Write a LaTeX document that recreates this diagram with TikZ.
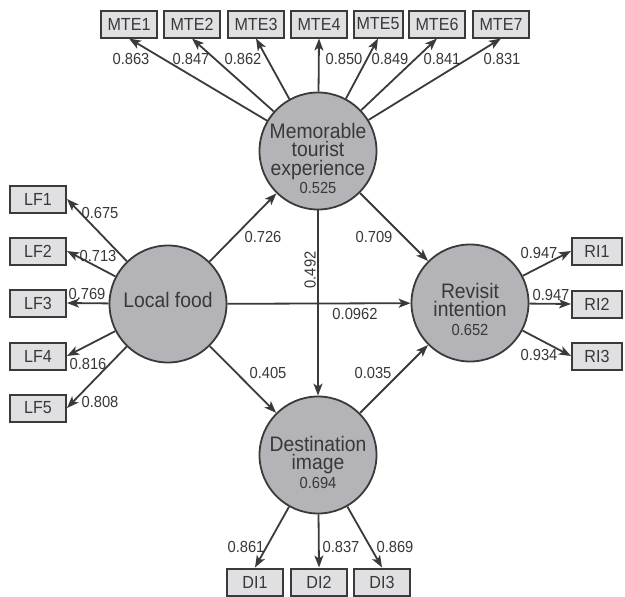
\documentclass[tikz,border=0pt]{standalone}
\usepackage{fontspec}
\setmainfont{Liberation Sans}[FakeStretch=0.92]
\usetikzlibrary{arrows.meta}
\definecolor{linec}{HTML}{3A3A3A}
\definecolor{txtc}{HTML}{383838}
\definecolor{circf}{HTML}{B4B4B8}
\definecolor{boxf}{HTML}{E0E0E2}
\tikzset{
  latent/.style={circle, draw=linec, fill=circf, line width=1.8pt, minimum size=117pt, inner sep=0pt},
  lattext/.style={text=txtc, align=center, font=\fontsize{21}{18.5}\selectfont, inner sep=0pt},
  indbox/.style={draw=linec, fill=boxf, line width=2pt, minimum width=56pt, minimum height=27pt, inner sep=1pt, text=txtc, font=\fontsize{17.5}{17.5}\selectfont},
  coef/.style={text=txtc, font=\fontsize{16}{16}\selectfont, inner sep=0pt},
  arr/.style={draw=linec, line width=1.8pt, -{Stealth[length=12pt,width=9pt,inset=3pt]}},
}
\newcommand{\smallnum}[1]{{\fontsize{16}{16}\selectfont #1}}
\begin{document}
\begin{tikzpicture}[x=1pt,y=-1pt]
\useasboundingbox (0,0) rectangle (625,597);
% latent variables
\node[latent] (mte) at (318,151) {};
\node[latent] (lf) at (168,304) {};
\node[latent] (ri) at (470,303) {};
\node[latent] (di) at (318,455) {};
\node[lattext] (mtet) at (318,158.5) {Memorable\\tourist\\experience\\\smallnum{0.525}};
\node[lattext] (lft) at (168,300) {Local food};
\node[lattext] (rit) at (470,309) {Revisit\\intention\\\smallnum{0.652}};
\node[lattext] (dit) at (318,462) {Destination\\image\\\smallnum{0.694}};
% MTE indicators
\node[indbox] (m1) at (129,24) {MTE1};
\node[indbox] (m2) at (192,24) {MTE2};
\node[indbox] (m3) at (256,24) {MTE3};
\node[indbox] (m4) at (319,24) {MTE4};
\node[indbox, minimum width=49pt, inner xsep=0pt] (m5) at (378,24) {MTE5};
\node[indbox] (m6) at (437,24) {MTE6};
\node[indbox] (m7) at (501,24) {MTE7};
% LF indicators
\node[indbox] (l1) at (38,199) {LF1};
\node[indbox] (l2) at (38,251) {LF2};
\node[indbox] (l3) at (38,303) {LF3};
\node[indbox] (l4) at (38,356) {LF4};
\node[indbox] (l5) at (38,408) {LF5};
% RI indicators
\node[indbox, minimum width=50pt] (r1) at (597,251) {RI1};
\node[indbox, minimum width=50pt] (r2) at (597,304) {RI2};
\node[indbox, minimum width=50pt] (r3) at (597,356) {RI3};
% DI indicators
\node[indbox] (d1) at (255,582) {DI1};
\node[indbox] (d2) at (319,582) {DI2};
\node[indbox] (d3) at (382,582) {DI3};
% arrows
\foreach \b in {m1,m2,m3,m4,m5,m6,m7} \draw[arr] (mte) -- (\b.south);
\foreach \b in {l1,l2,l3,l4,l5} \draw[arr] (lf) -- (\b.east);
\foreach \b in {r1,r2,r3} \draw[arr] (ri) -- (\b.west);
\foreach \b in {d1,d2,d3} \draw[arr] (di) -- (\b.north);
\draw[arr] (lf) -- (mte);
\draw[arr] (lf) -- (ri);
\draw[arr] (lf) -- (di);
\draw[arr] (mte) -- (ri);
\draw[arr] (mte) -- (di);
\draw[arr] (di) -- (ri);
% coefficients
\node[coef] (c1) at (131,59) {0.863};
\node[coef] (c2) at (191,59) {0.847};
\node[coef] (c3) at (243,59) {0.862};
\node[coef] (c4) at (344,59) {0.850};
\node[coef] (c5) at (390,59) {0.849};
\node[coef] (c6) at (442,59) {0.841};
\node[coef] (c7) at (502,59) {0.831};
\node[coef] (c8) at (100,213) {0.675};
\node[coef] (c9) at (98,256) {0.713};
\node[coef] (c10) at (87,294) {0.769};
\node[coef] (c11) at (88,364) {0.816};
\node[coef] (c12) at (100,402) {0.808};
\node[coef] (c13) at (539,253) {0.947};
\node[coef] (c14) at (551,295) {0.947};
\node[coef] (c15) at (539,355) {0.934};
\node[coef] (c16) at (246,547) {0.861};
\node[coef] (c17) at (341,547) {0.837};
\node[coef] (c18) at (395,547) {0.869};
\node[coef] (c19) at (263,237) {0.726};
\node[coef] (c20) at (374,237) {0.709};
\node[coef, rotate=90] (c21) at (310,270) {0.492};
\node[coef] (c22) at (355,314) {0.0962};
\node[coef] (c23) at (268,373) {0.405};
\node[coef] (c24) at (373,373) {0.035};
\end{tikzpicture}
\end{document}
